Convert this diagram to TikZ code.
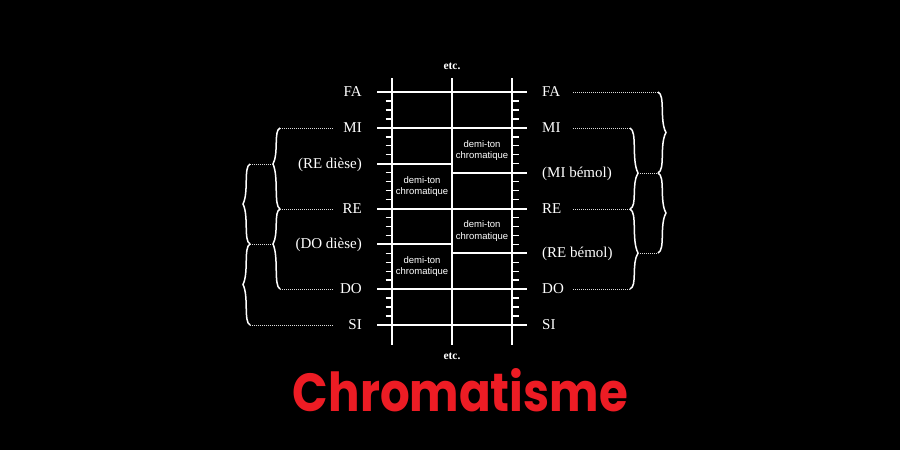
\documentclass[tikz,border=0pt]{standalone}
\usepackage{fontspec}
\setmainfont{Liberation Serif}
\setsansfont{Liberation Sans}
\newfontfamily\titlefont{Poppins}
\usetikzlibrary{calc}
\definecolor{Chalk}{RGB}{255,255,255}
\definecolor{DotGray}{RGB}{220,220,220}
\definecolor{TitleRed}{RGB}{237,28,36}
\tikzset{
  rail/.style={draw=Chalk,line width=2pt},
  rung/.style={draw=Chalk,line width=2pt},
  comma/.style={draw=Chalk,line width=1.4pt},
  note/.style={text=Chalk,font=\fontsize{15}{17}\selectfont,inner sep=0pt,text height=9.9pt,text depth=0pt},
  cell/.style={text=Chalk,font=\sffamily\fontsize{9.5}{11.7}\selectfont,align=center,inner sep=0pt},
  etcnote/.style={text=Chalk,font=\bfseries\fontsize{11.5}{13}\selectfont,inner sep=0pt},
  leader/.style={draw=DotGray,line width=0.9pt,dash pattern=on 1pt off 1pt},
  % curly brace between two ends, #1 = signed amplitude, #2 = place of the point
  curly/.style 2 args={draw=Chalk,line width=1.5pt,
    to path={let \p1=(\tikztostart), \p2=(\tikztotarget), \p3=($(\p1)!#2!(\p2)$) in
      (\p1) .. controls ({\x1+0.95*(#1)},{\y1+0.08*(\y3-\y1)}) and ({\x1+0.15*(#1)},{\y1+0.7*(\y3-\y1)}) .. ({\x1+(#1)},\y3)
      .. controls ({\x1+0.15*(#1)},{\y3+0.3*(\y2-\y3)}) and ({\x1+0.95*(#1)},{\y2-0.08*(\y2-\y3)}) .. (\p2)}},
  lbrace/.style={curly={-7pt}{#1}},
  lbrace/.default=0.5,
  rbrace/.style={curly={8pt}{#1}},
  rbrace/.default=0.5
}

\begin{document}
\begin{tikzpicture}[x=1pt,y=-1pt]
\useasboundingbox[fill=black] (0,0) rectangle (900,450);
% rails and levels
\coordinate (Ltop) at (392,78); \coordinate (Lbot) at (392,345);
\coordinate (Mtop) at (452,78); \coordinate (Mbot) at (452,345);
\coordinate (Rtop) at (512,78); \coordinate (Rbot) at (512,345);
\coordinate (Xl) at (377,0); \coordinate (Xr) at (527,0);
\coordinate (Xnl) at (362,0); \coordinate (Xnr) at (542,0);
\coordinate (FA) at (452,92);
\coordinate (MI) at (452,128);
\coordinate (REd) at (452,164);
\coordinate (MIb) at (452,173);
\coordinate (RE) at (452,209);
\coordinate (DOd) at (452,244);
\coordinate (REb) at (452,253);
\coordinate (DO) at (452,289);
\coordinate (SI) at (452,325);

\draw[rail] (Ltop) -- (Lbot); \draw[rail] (Mtop) -- (Mbot); \draw[rail] (Rtop) -- (Rbot);
\foreach \c in {1,...,25}{
  \draw[comma] (385.5,{92+8.96*\c}) -- (392,{92+8.96*\c});
  \draw[comma] (512,{92+8.96*\c}) -- (518.5,{92+8.96*\c});
}
\foreach \n in {FA,MI,RE,DO,SI} \draw[rung] (\n -| Xl) -- (\n -| Xr);
\draw[rung] (REd -| Xl) -- (REd); \draw[rung] (DOd -| Xl) -- (DOd);
\draw[rung] (MIb) -- (MIb -| Xr); \draw[rung] (REb) -- (REb -| Xr);

\node[cell] (dtA) at ($(MI)!0.5!(MIb)+(30,0)$) {demi-ton\\chromatique};
\node[cell] (dtB) at ($(REd)!0.5!(RE)+(-30,0)$) {demi-ton\\chromatique};
\node[cell] (dtC) at ($(RE)!0.5!(REb)+(30,0)$) {demi-ton\\chromatique};
\node[cell] (dtD) at ($(DOd)!0.5!(DO)+(-30,0)$) {demi-ton\\chromatique};
\node[etcnote] (etcTop) at (452,66) {etc.};
\node[etcnote] (etcBot) at (452,356) {etc.};

% left names
\node[note,anchor=east] (lFA) at (FA -| Xnl) {FA};
\node[note,anchor=east] (lMI) at (MI -| Xnl) {MI};
\node[note,anchor=east] (lREd) at (REd -| Xnl) {(RE dièse)};
\node[note,anchor=east] (lRE) at (RE -| Xnl) {RE};
\node[note,anchor=east] (lDOd) at (DOd -| Xnl) {(DO dièse)};
\node[note,anchor=east] (lDO) at (DO -| Xnl) {DO};
\node[note,anchor=east] (lSI) at (SI -| Xnl) {SI};
% right names
\node[note,anchor=west] (rFA) at (FA -| Xnr) {FA};
\node[note,anchor=west] (rMI) at (MI -| Xnr) {MI};
\node[note,anchor=west] (rMIb) at (MIb -| Xnr) {(MI bémol)};
\node[note,anchor=west] (rRE) at (RE -| Xnr) {RE};
\node[note,anchor=west] (rREb) at (REb -| Xnr) {(RE bémol)};
\node[note,anchor=west] (rDO) at (DO -| Xnr) {DO};
\node[note,anchor=west] (rSI) at (SI -| Xnr) {SI};

% left braces
\coordinate (lEnd) at (333,0); \coordinate (lIn) at (280,0);
\coordinate (lInCusp) at (273,0); \coordinate (lOut) at (250,0);
\foreach \n in {MI,RE,DO} \draw[leader] (l\n -| lEnd) -- (l\n -| lIn);
\draw[leader] (lSI -| lEnd) -- (lSI -| lOut);
\draw[lbrace=0.444] (lMI -| lIn) to (lRE -| lIn);
\draw[lbrace=0.4375] (lRE -| lIn) to (lDO -| lIn);
\draw[leader] (lREd -| lInCusp) -- (lREd -| lOut);
\draw[leader] (lDOd -| lInCusp) -- (lDOd -| lOut);
\draw[lbrace] (lREd -| lOut) to (lDOd -| lOut);
\draw[lbrace] (lDOd -| lOut) to (lSI -| lOut);

% right braces
\coordinate (rEnd) at (573,0); \coordinate (rIn) at (630,0);
\coordinate (rInCusp) at (638,0); \coordinate (rOut) at (658,0);
\draw[leader] (rFA -| rEnd) -- (rFA -| rOut);
\foreach \n in {MI,RE,DO} \draw[leader] (r\n -| rEnd) -- (r\n -| rIn);
\draw[rbrace=0.556] (rMI -| rIn) to (rRE -| rIn);
\draw[rbrace=0.55] (rRE -| rIn) to (rDO -| rIn);
\draw[leader] (rMIb -| rInCusp) -- (rMIb -| rOut);
\draw[leader] (rREb -| rInCusp) -- (rREb -| rOut);
\draw[rbrace] (rFA -| rOut) to (rMIb -| rOut);
\draw[rbrace] (rMIb -| rOut) to (rREb -| rOut);

\node[text=TitleRed,anchor=base,inner sep=0pt] (title) at (460.5,411) {\resizebox{335pt}{43pt}{\titlefont\bfseries Chromatisme}};
\end{tikzpicture}
\end{document}
